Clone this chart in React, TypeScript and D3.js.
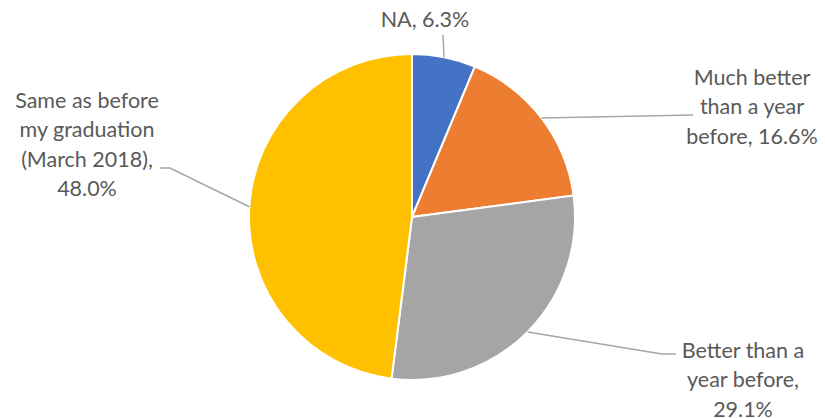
import React from "react";
import * as d3 from "d3";

const categories = ["NA", "Much better than a year before", "Better than a year before", "Same as before my graduation (March 2018)"];
const values = [6.3, 16.6, 29.1, 48.0];
const colors = ["#4472C4", "#ED7D31", "#A5A5A5", "#FFC000"];
const labelLines = [
  ["NA, 6.3%"],
  ["Much better", "than a year", "before, 16.6%"],
  ["Better than a", "year before,", "29.1%"],
  ["Same as before", "my graduation", "(March 2018),", "48.0%"],
];

const W = 825, H = 418;
const cx = 412, cy = 217, R = 163;
const lineH = 29.3;
const fontSize = 21.5;

// label anchor (x center, first baseline) and leader-line elbow/end points
const labelPos = [
  { x: 425, y: 27, pts: [[443, 35]] },
  { x: 752, y: 85, pts: [[693, 115]] },
  { x: 743, y: 358, pts: [[662, 354], [676, 354]] },
  { x: 87, y: 108, pts: [[170, 168], [160, 168]] },
];

export default function App() {
  const pie = d3.pie<number>().sort(null).value((d) => d)(values);
  const arc = d3.arc<d3.PieArcDatum<number>>().innerRadius(0).outerRadius(R);
  return (
    <svg width={W} height={H} style={{ position: "absolute", left: 0, top: 0, background: "#fff" }}>
      <g transform={`translate(${cx},${cy})`}>
        {pie.map((p, i) => (
          <path key={i} d={arc(p) || ""} fill={colors[i]} stroke="#fff" strokeWidth={2} />
        ))}
      </g>
      {pie.map((p, i) => {
        const a = (p.startAngle + p.endAngle) / 2;
        const sx = cx + R * Math.sin(a);
        const sy = cy - R * Math.cos(a);
        const pts = [[sx, sy], ...labelPos[i].pts];
        return (
          <polyline key={"l" + i} points={pts.map((q) => q.join(",")).join(" ")} fill="none" stroke="#A6A6A6" strokeWidth={1.5} />
        );
      })}
      {labelLines.map((lines, i) => (
        <text key={"t" + i} x={labelPos[i].x} y={labelPos[i].y} textAnchor="middle" fontFamily="Lato, 'Open Sans', sans-serif" fontSize={fontSize} fill="#595959">
          {lines.map((s, j) => (
            <tspan key={j} x={labelPos[i].x} y={labelPos[i].y + j * lineH}>{s}</tspan>
          ))}
        </text>
      ))}
    </svg>
  );
}
